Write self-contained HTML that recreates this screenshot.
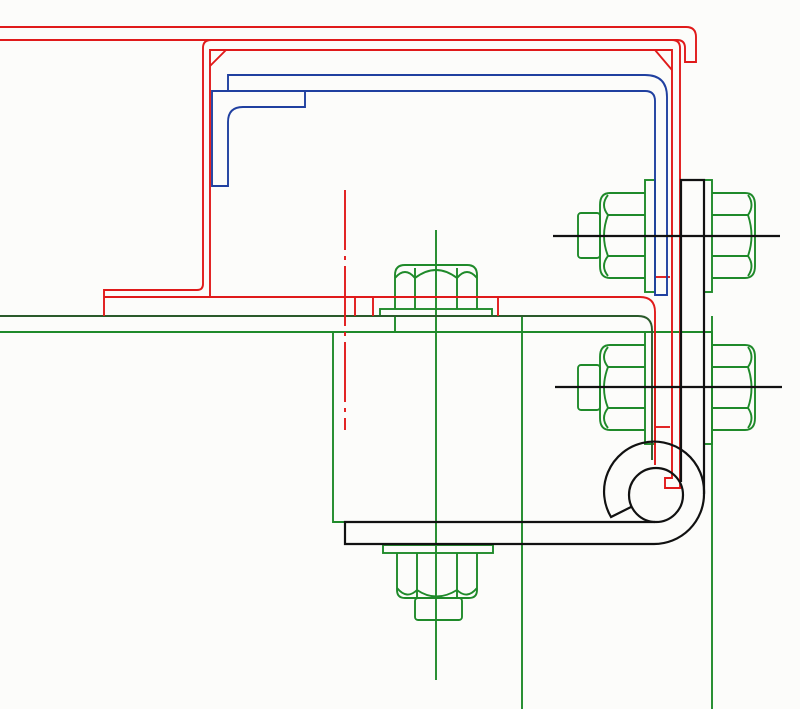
<!DOCTYPE html>
<html><head><meta charset="utf-8"><style>html,body{margin:0;padding:0;background:#fcfcfa}svg{display:block}</style></head>
<body>
<svg width="800" height="709" viewBox="0 0 800 709" xmlns="http://www.w3.org/2000/svg" fill="none" stroke-width="1.9">
<rect width="800" height="709" fill="#fcfcfa" stroke="none"/>
<!-- green structure -->
<g stroke="#1f8a2a">
<line x1="0" y1="332" x2="712" y2="332"/>
<line x1="436" y1="230" x2="436" y2="680"/>
<line x1="522" y1="316" x2="522" y2="709"/>
<line x1="712" y1="316" x2="712" y2="709"/>
<polyline points="333,332 333,522 345,522"/>
<!-- top nut -->
<rect x="380" y="309" width="112" height="7"/>
<path d="M395,309 V275 Q395,265 405,265 H467 Q477,265 477,275 V309"/>
<line x1="415" y1="268" x2="415" y2="309"/><line x1="457" y1="268" x2="457" y2="309"/>
<path d="M395,278 Q405,266 415,278 Q436,262 457,278 Q467,266 477,278"/>
<line x1="395" y1="316" x2="395" y2="332"/>
<!-- bottom nut -->
<rect x="383" y="545" width="110" height="8"/>
<path d="M397,553 V590 Q397,598 405,598 H469 Q477,598 477,590 V553"/>
<line x1="417" y1="553" x2="417" y2="598"/><line x1="457" y1="553" x2="457" y2="598"/>
<path d="M397,588 Q407,600 417,590 Q436,603 457,590 Q467,600 477,588"/>
<rect x="415" y="598" width="47" height="22" rx="3"/>
<!-- right bolts -->
<g id="rb">
<rect x="645" y="180" width="10" height="112"/>
<path d="M645,193 H610 Q600,193 600,205 V266 Q600,278 610,278 H645"/>
<line x1="608" y1="215" x2="645" y2="215"/><line x1="608" y1="256" x2="645" y2="256"/>
<path d="M608,195 Q600,205 608,215 Q600,236 608,256 Q600,266 608,276"/>
<rect x="578" y="213" width="22" height="45" rx="3"/>
<rect x="704" y="180" width="8" height="112"/>
<path d="M712,193 H745 Q755,193 755,205 V266 Q755,278 745,278 H712"/>
<line x1="712" y1="215" x2="748" y2="215"/><line x1="712" y1="256" x2="748" y2="256"/>
<path d="M748,195 Q755,205 748,215 Q755,236 748,256 Q755,266 748,276"/>
</g>
<use href="#rb" transform="translate(0,152)"/>
<path d="M0,316 H638 Q652,316 652,330 V460" stroke="#2a5a2a"/>
</g>
<!-- red -->
<g stroke="#e01a1a">
<path d="M0,40 H677 Q685,40 685,48 V62 H696 V37 Q696,27 686,27 H0"/>
<path d="M104,316 V290 H197 Q203,290 203,284 V48 Q203,40 211,40"/>
<path d="M672,40 Q680,40 680,48 V488 H665 V478 H672 V50 H210 V297"/>
<path d="M104,297 H640 Q655,297 655,312 V465"/>
<path d="M210,66 L226,50 M655,50 L672,70"/>
<line x1="655" y1="277" x2="670" y2="277"/><line x1="655" y1="427" x2="670" y2="427"/>
<line x1="355" y1="297" x2="355" y2="316"/><line x1="373" y1="297" x2="373" y2="316"/><line x1="498" y1="297" x2="498" y2="316"/>
<line x1="345" y1="190" x2="345" y2="430" stroke-dasharray="60,6,4,6"/>
</g>
<!-- blue -->
<g stroke="#2040a0">
<path d="M228,91 V75 H645 Q667,75 667,97 V295 H655 V101 Q655,91 645,91 H212 V186 H228 V122 Q228,107 243,107 H305 V91"/>
</g>
<!-- black -->
<g stroke="#111" stroke-width="2.2">
<line x1="553" y1="236" x2="780" y2="236"/>
<line x1="555" y1="387" x2="782" y2="387"/>
<path d="M681,482 V180 H704 V494 A50,50 0 0 1 654,544 H345 V522 H655"/>
<circle cx="656" cy="495" r="27"/>
<path d="M631,507 L611,517 A50,50 0 1 1 704,494"/>
</g>
</svg>
</body></html>
